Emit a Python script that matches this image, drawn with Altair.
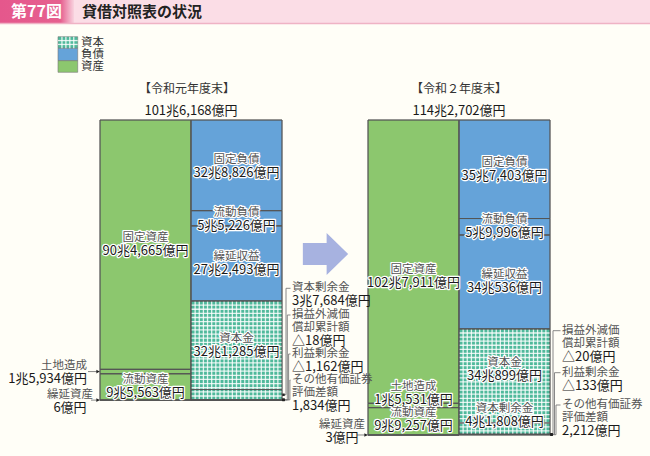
import altair as alt
import pandas as pd

# ---------------- data (兆円) ----------------
years = ["令和元年度末", "令和２年度末"]
asset_items = ["固定資産", "土地造成", "流動資産", "繰延資産"]
assets_r1 = [90.4665, 1.5934, 9.5563, 0.0006]
assets_r2 = [102.7911, 1.5531, 9.9257, 0.0003]
liab_items = ["固定負債", "流動負債", "繰延収益"]
liab_r1 = [32.8826, 5.5226, 27.2493]
liab_r2 = [35.7403, 5.9996, 34.0536]
cap_items = ["資本金", "資本剰余金", "損益外減価償却累計額", "利益剰余金", "その他有価証券評価差額"]
cap_r1 = [32.1285, 3.7684, -0.0018, -0.1162, 0.1834]
cap_r2 = [34.0899, 4.1808, -0.0020, -0.0133, 0.2212]
legend_items = ["資本", "負債", "資産"]
title_no = "第77図"
title_text = "貸借対照表の状況"
name_breaks = {"損益外減価償却累計額": "損益外減価\n償却累計額",
               "その他有価証券評価差額": "その他有価証券\n評価差額"}

ASSETS = [assets_r1, assets_r2]
LIABS = [liab_r1, liab_r2]
CAPS = [cap_r1, cap_r2]


def fmt(v):
    oku = int(round(v * 10000))
    sign = "△" if oku < 0 else ""
    oku = abs(oku)
    cho, rest = divmod(oku, 10000)
    if cho:
        return f"{sign}{cho}兆{rest:,}億円"
    return f"{sign}{rest:,}億円"


# ---------------- layout / style ----------------
FONT = "Noto Sans CJK JP"
GREEN, BLUE, TEAL = "#8cc76e", "#65a3d9", "#4fb99b"
KIND_COLORS = [TEAL, BLUE, GREEN]
BG = "#fffef7"
W, H = 650, 456
TOP_PX = 120
K = 315 / 114.2702          # px per 兆円
COL_PX = [(100, 191, 282), (368, 459, 550)]
XDOM = [-100 / 91, (W - 100) / 91]
YDOM = [-TOP_PX / K, (H - TOP_PX) / K]
NAME_FS, VAL_FS = 11.5, 13


def X(px):
    return (px - 100) / 91


def Y(py):
    return (py - TOP_PX) / K


def DPX(d):
    return d / K


xs = alt.Scale(domain=XDOM, nice=False, zero=False)
ys = alt.Scale(domain=YDOM, reverse=True, nice=False, zero=False)
kind_scale = alt.Scale(domain=legend_items, range=KIND_COLORS)

# ---------------- segments ----------------
seg_rows = []
for yi in range(2):
    l, m, r = COL_PX[yi]
    cum = 0.0
    for name, v in zip(asset_items, ASSETS[yi]):
        seg_rows.append(dict(yi=yi, kind="資産", item=name, v=v, x0=X(l), x1=X(m), d0=cum, d1=cum + v))
        cum += v
    cum = 0.0
    for kind, items, vals in (("負債", liab_items, LIABS[yi]), ("資本", cap_items, CAPS[yi])):
        for name, v in zip(items, vals):
            seg_rows.append(dict(yi=yi, kind=kind, item=name, v=v, x0=X(m), x1=X(r), d0=cum, d1=cum + v))
            cum += v
segs = pd.DataFrame(seg_rows)
segs["dc"] = (segs["d0"] + segs["d1"]) / 2


def seg(yi, item):
    return segs[(segs.yi == yi) & (segs.item == item)].iloc[0]


bars = alt.Chart(segs).mark_rect(stroke="#555555", strokeWidth=0.8).encode(
    x=alt.X("x0:Q", scale=xs, axis=None), x2="x1:Q",
    y=alt.Y("d0:Q", scale=ys, axis=None), y2="d1:Q",
    fill=alt.Fill("kind:N", scale=kind_scale, legend=None),
)
outlines = alt.Chart(segs).mark_rect(fillOpacity=0, stroke="#555555", strokeWidth=0.8).encode(
    x=alt.X("x0:Q", scale=xs, axis=None), x2="x1:Q",
    y=alt.Y("d0:Q", scale=ys, axis=None), y2="d1:Q",
)

# gingham texture: a grid of thin white lines over the capital area
CELL = 4.1  # px


def grid_rows(x0, x1, d0, d1):
    rows = []
    wpx = (x1 - x0) * 91
    hpx = (d1 - d0) * K
    nv = max(1, round(wpx / CELL))
    nh = max(1, round(hpx / CELL))
    for i in range(1, nv):
        xx = x0 + (x1 - x0) * i / nv
        rows.append(dict(x=xx, x2=xx, y=d0, y2=d1))
    for j in range(1, nh):
        yy = d0 + (d1 - d0) * j / nh
        rows.append(dict(x=x0, x2=x1, y=yy, y2=yy))
    return rows


grid = []
for yi in range(2):
    l, m, r = COL_PX[yi]
    grid += grid_rows(X(m), X(r), sum(LIABS[yi]), sum(LIABS[yi]) + sum(CAPS[yi]))

# ---------------- legend ----------------
LEG_X = (58, 77.7)
LEG_Y = [36.7, 48.3, 60.7, 72.3]
leg = pd.DataFrame([dict(kind=k, x0=X(LEG_X[0]), x1=X(LEG_X[1]), d0=Y(LEG_Y[i]), d1=Y(LEG_Y[i + 1]),
                         x=X(81), y=Y((LEG_Y[i] + LEG_Y[i + 1]) / 2), text=k)
                    for i, k in enumerate(legend_items)])
leg_rect = alt.Chart(leg).mark_rect(stroke="#777777", strokeWidth=0.6).encode(
    x=alt.X("x0:Q", scale=xs, axis=None), x2="x1:Q",
    y=alt.Y("d0:Q", scale=ys, axis=None), y2="d1:Q",
    fill=alt.Fill("kind:N", scale=kind_scale, legend=None))
grid += grid_rows(X(LEG_X[0]), X(LEG_X[1]), Y(LEG_Y[0]), Y(LEG_Y[1]))

grid_layer = alt.Chart(pd.DataFrame(grid)).mark_rule(color="white", strokeWidth=1.3, opacity=0.82).encode(
    x=alt.X("x:Q", scale=xs, axis=None), x2="x2:Q",
    y=alt.Y("y:Q", scale=ys, axis=None), y2="y2:Q")

# ---------------- text rows ----------------
center_rows, left_rows, right_rows, halo_rows = [], [], [], []
NAME_C, VAL_C = "#555555", "#1a1a1a"

# headers
HEADER_DX = [-4, 0]
for yi in range(2):
    l, m, r = COL_PX[yi]
    center_rows.append(dict(x=X(m + HEADER_DX[yi]), y=Y(89), text=f"【{years[yi]}】", clr="#333333", fs=12))
    center_rows.append(dict(x=X(m), y=Y(110.5), text=fmt(sum(ASSETS[yi])), clr="#1a1a1a", fs=13))

# inside labels: shift (px) from segment centre
inside = [
    {"固定資産": 0, "流動資産": 0, "固定負債": 1, "流動負債": 1, "繰延収益": 0, "資本金": 0.5},
    {"固定資産": 15, "土地造成": -11.6, "流動資産": -1.7, "固定負債": 0, "流動負債": 0,
     "繰延収益": 0, "資本金": -6, "資本剰余金": -13.2},
]
for yi in range(2):
    for item, sh in inside[yi].items():
        s = seg(yi, item)
        cx = (s.x0 + s.x1) / 2
        halo_rows.append(dict(x=cx, y=s.dc + DPX(sh - 6.5), text=item, clr=NAME_C, fs=NAME_FS))
        halo_rows.append(dict(x=cx, y=s.dc + DPX(sh + 6.5), text=fmt(s.v), clr=VAL_C, fs=VAL_FS))

LH = 13.1
rule_rows, tri_r, tri_l = [], [], []

# callouts on the left side of the asset column
left_callouts = [  # (yi, item, align, text x px, first line y px, line start px)
    (0, "土地造成", "right", 87, 366, 88),
    (0, "繰延資産", "center", 70, 395, 91),
    (1, "繰延資産", "center", 342, 425, 357),
]
for yi, item, align, tx, ty, lx in left_callouts:
    s = seg(yi, item)
    rows = right_rows if align == "right" else center_rows
    rows.append(dict(x=X(tx), y=Y(ty), text=item, clr=NAME_C, fs=NAME_FS))
    rows.append(dict(x=X(tx), y=Y(ty + LH), text=fmt(s.v), clr=VAL_C, fs=VAL_FS))
    edge = COL_PX[yi][0]
    rule_rows.append(dict(x=X(lx), x2=X(edge), y=s.dc, y2=s.dc))
    tri_r.append(dict(x=X(edge - 2), y=s.dc))

# callouts on the right side of the capital column
right_callouts = [  # (yi, item, first line y px, bracket x px, text x px)
    (0, "資本剰余金", 288.3, 286.0, 292),
    (0, "損益外減価償却累計額", 315.0, 287.3, 292),
    (0, "利益剰余金", 354.0, 288.6, 292),
    (0, "その他有価証券評価差額", 380.0, 289.9, 292),
    (1, "損益外減価償却累計額", 330.7, 553.0, 562),
    (1, "利益剰余金", 372.7, 554.5, 562),
    (1, "その他有価証券評価差額", 405.0, 556.0, 562),
]
for yi, item, ty, bx, tx in right_callouts:
    s = seg(yi, item)
    lines = name_breaks.get(item, item).split("\n")
    for i, ln in enumerate(lines):
        left_rows.append(dict(x=X(tx), y=Y(ty + i * LH), text=ln, clr=NAME_C, fs=NAME_FS))
    left_rows.append(dict(x=X(tx), y=Y(ty + len(lines) * LH), text=fmt(s.v), clr=VAL_C, fs=VAL_FS))
    edge = COL_PX[yi][2]
    rule_rows.append(dict(x=X(bx), x2=X(tx - 1.5), y=Y(ty), y2=Y(ty)))
    rule_rows.append(dict(x=X(bx), x2=X(bx), y=Y(ty), y2=s.dc))
    rule_rows.append(dict(x=X(edge), x2=X(bx), y=s.dc, y2=s.dc))
    tri_l.append(dict(x=X(edge + 1.5), y=s.dc))

# legend labels
for _, rw in leg.iterrows():
    left_rows.append(dict(x=rw.x, y=rw.y, text=rw.text, clr="#333333", fs=11.5))


def text_layer(rows, align, halo=False):
    df = pd.DataFrame(rows)
    kw = dict(align=align, baseline="middle", font=FONT)
    if halo:
        kw.update(stroke="white", strokeWidth=2.4, strokeJoin="round", fill="white")
    ch = alt.Chart(df).mark_text(**kw).encode(
        x=alt.X("x:Q", scale=xs, axis=None), y=alt.Y("y:Q", scale=ys, axis=None),
        text="text:N", size=alt.Size("fs:Q", scale=None))
    if not halo:
        ch = ch.encode(color=alt.Color("clr:N", scale=None))
    return ch


rules = alt.Chart(pd.DataFrame(rule_rows)).mark_rule(color="#7a7a7a", strokeWidth=0.9).encode(
    x=alt.X("x:Q", scale=xs, axis=None), x2="x2:Q",
    y=alt.Y("y:Q", scale=ys, axis=None), y2="y2:Q")
heads_r = alt.Chart(pd.DataFrame(tri_r)).mark_point(shape="triangle-right", filled=True, color="#222222",
                                                    size=14, opacity=1).encode(
    x=alt.X("x:Q", scale=xs, axis=None), y=alt.Y("y:Q", scale=ys, axis=None))
heads_l = alt.Chart(pd.DataFrame(tri_l)).mark_point(shape="square", filled=True, color="#222222",
                                                    size=6, opacity=1).encode(
    x=alt.X("x:Q", scale=xs, axis=None), y=alt.Y("y:Q", scale=ys, axis=None))

# ---------------- decorations ----------------
one = pd.DataFrame({"a": [0]})
title_bar = alt.Chart(one).mark_rect(fill="#fbdde6").encode(
    x=alt.value(0), x2=alt.value(W), y=alt.value(0), y2=alt.value(23))
title_box = alt.Chart(one).mark_rect(fill=alt.Gradient(
    gradient="linear", x1=0, x2=1, y1=0, y2=0,
    stops=[alt.GradientStop(offset=0, color="#e5578c"), alt.GradientStop(offset=0.82, color="#e6608f"),
           alt.GradientStop(offset=1, color="#f8d3df")])).encode(
    x=alt.value(0), x2=alt.value(74), y=alt.value(0), y2=alt.value(23))
title_line = alt.Chart(one).mark_rule(color="#efb3c5", strokeWidth=1.5).encode(
    x=alt.value(0), x2=alt.value(W), y=alt.value(23.5))
title_no_t = alt.Chart(one).mark_text(text=title_no, font=FONT, fontSize=16, fontWeight="bold",
                                      color="white", align="left", baseline="middle").encode(
    x=alt.value(11), y=alt.value(12))
title_t = alt.Chart(one).mark_text(text=title_text, font=FONT, fontSize=15, fontWeight="bold",
                                   color="#222222", align="left", baseline="middle").encode(
    x=alt.value(82), y=alt.value(12))
ARROW_PATH = "M-1,-0.49L0.05,-0.49L0.05,-0.93L1,0L0.05,0.93L0.05,0.49L-1,0.49Z"
big_arrow = alt.Chart(one).mark_point(shape=ARROW_PATH, size=2052, filled=True, color="#a7b2e0",
                                      opacity=1, strokeWidth=0).encode(
    x=alt.value(325.5), y=alt.value(254))

layers = [title_bar, title_box, title_line, title_no_t, title_t, bars, leg_rect, grid_layer, outlines,
          big_arrow, rules, heads_r, heads_l,
          text_layer(halo_rows, "center", halo=True), text_layer(halo_rows, "center"),
          text_layer(center_rows, "center"), text_layer(left_rows, "left"),
          text_layer(right_rows, "right")]

chart = alt.layer(*layers).properties(
    width=W, height=H, padding=0, autosize="none", background=BG
).configure_view(stroke=None)

chart.save("out.html", embed_options={"renderer": "svg", "actions": False})
